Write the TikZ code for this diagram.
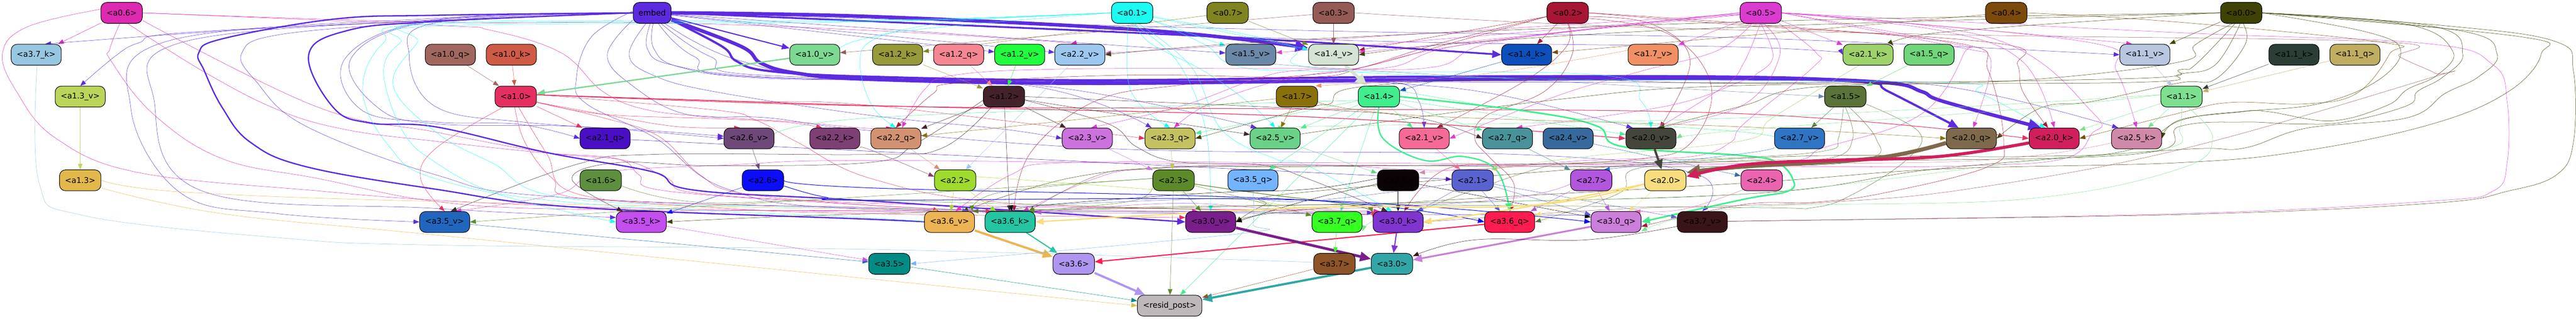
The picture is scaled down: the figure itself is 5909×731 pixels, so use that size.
\documentclass[tikz,border=0pt]{standalone}
\usepackage{fontspec}
\setmainfont{DejaVu Sans}
\usetikzlibrary{arrows.meta}
\pgfdeclarelayer{edges}
\pgfsetlayers{edges,main}
\tikzset{
  box/.style={draw=black,line width=1.2pt,rounded corners=14pt,inner sep=0pt,minimum height=48pt,text=black,font=\fontsize{18}{20}\selectfont},
  edge/.style={-{Triangle[length=12pt 2.2,width=9pt 2]},line join=round}
}
\newcommand{\nd}[6]{\definecolor{col#1}{HTML}{#5}\node[box,fill=col#1,minimum width=#4pt] (#1) at (#2,#3) {#6};}
\newcommand{\ed}[5][0.6]{\begin{pgfonlayer}{edges}\draw[edge,line width=#1pt,draw=col#2] plot[smooth,tension=.65] coordinates {(#3) #5 (#4)};\end{pgfonlayer}}
\newcommand{\es}[3][0.6]{\begin{pgfonlayer}{edges}\draw[edge,line width=#1pt,draw=col#2] (#2) -- (#3);\end{pgfonlayer}}
\begin{document}
\begin{tikzpicture}[x=1pt,y=-1pt]
\useasboundingbox (0,0) rectangle (5909,731);
\begin{pgfonlayer}{edges}\fill[white] (0,0) rectangle (5909,731);\end{pgfonlayer}
% row 0
\nd{a06}{279}{29.5}{95}{DD2AB0}{<a0.6>}
\nd{embed}{1496}{29.5}{87}{5C2BE0}{embed}
\nd{a01}{2597}{29.5}{95}{1CFBF2}{<a0.1>}
\nd{a07}{2816}{29.5}{95}{7F8420}{<a0.7>}
\nd{a03}{3059}{29.5}{95}{955A56}{<a0.3>}
\nd{a02}{3596}{29.5}{95}{A81636}{<a0.2>}
\nd{a05}{4039}{29.5}{95}{DC3BD0}{<a0.5>}
\nd{a04}{4602}{29.5}{95}{7C4A0A}{<a0.4>}
\nd{a00}{5141}{29.5}{95}{3E4203}{<a0.0>}
% row 1
\nd{a37k}{83}{125.5}{115}{97C6E0}{<a3.7\_k>}
\nd{a10q}{1033}{125.5}{115}{A1675F}{<a1.0\_q>}
\nd{a10k}{1173}{125.5}{115}{CF5A45}{<a1.0\_k>}
\nd{a10v}{1869}{125.5}{115}{7DD892}{<a1.0\_v>}
\nd{a12k}{2059}{125.5}{115}{969A38}{<a1.2\_k>}
\nd{a12q}{2199}{125.5}{115}{F58792}{<a1.2\_q>}
\nd{a12v}{2339}{125.5}{115}{20FE3D}{<a1.2\_v>}
\nd{a22v}{2477}{125.5}{115}{9CC8F0}{<a2.2\_v>}
\nd{a15v}{2869}{125.5}{115}{6C88A8}{<a1.5\_v>}
\nd{a14v}{3059}{125.5}{115}{D4E3D4}{<a1.4\_v>}
\nd{a14k}{3502}{125.5}{115}{0D4FBB}{<a1.4\_k>}
\nd{a17v}{3792}{125.5}{115}{F09064}{<a1.7\_v>}
\nd{a21k}{4285}{125.5}{115}{9ED36A}{<a2.1\_k>}
\nd{a15q}{4425}{125.5}{115}{70D67A}{<a1.5\_q>}
\nd{a11v}{4920}{125.5}{115}{B8C6E0}{<a1.1\_v>}
\nd{a11k}{5262}{125.5}{115}{2A3E36}{<a1.1\_k>}
\nd{a11q}{5402}{125.5}{115}{BFAD60}{<a1.1\_q>}
% row 2
\nd{a13v}{184}{221.5}{115}{BBD55B}{<a1.3\_v>}
\nd{a10}{1183}{221.5}{95}{E43060}{<a1.0>}
\nd{a12}{2303}{221.5}{95}{432329}{<a1.2>}
\nd{a17}{2975}{221.5}{95}{8A7008}{<a1.7>}
\nd{a14}{3163}{221.5}{95}{40EE8E}{<a1.4>}
\nd{a15}{4233}{221.5}{95}{5A7338}{<a1.5>}
\nd{a11}{5004}{221.5}{95}{7CE090}{<a1.1>}
% row 3
\nd{a21q}{1388}{317.5}{115}{4A0EC4}{<a2.1\_q>}
\nd{a26v}{1718}{317.5}{115}{6E4878}{<a2.6\_v>}
\nd{a22k}{1915}{317.5}{115}{7E3F74}{<a2.2\_k>}
\nd{a22q}{2055}{317.5}{115}{D29272}{<a2.2\_q>}
\nd{a23v}{2494}{317.5}{115}{CB72DC}{<a2.3\_v>}
\nd{a23q}{2684}{317.5}{115}{C4C160}{<a2.3\_q>}
\nd{a25v}{2925}{317.5}{115}{69D188}{<a2.5\_v>}
\nd{a21v}{3267}{317.5}{115}{F56A97}{<a2.1\_v>}
\nd{a27q}{3458}{317.5}{115}{4A929A}{<a2.7\_q>}
\nd{a24v}{3597}{317.5}{115}{37699C}{<a2.4\_v>}
\nd{a20v}{3787}{317.5}{115}{45463B}{<a2.0\_v>}
\nd{a27v}{4128}{317.5}{115}{2F75C4}{<a2.7\_v>}
\nd{a20q}{4522}{317.5}{115}{7F694C}{<a2.0\_q>}
\nd{a20k}{4712}{317.5}{115}{D01F5C}{<a2.0\_k>}
\nd{a25k}{4901}{317.5}{115}{D089A8}{<a2.5\_k>}
% row 4
\nd{a13}{184}{413.5}{95}{E2B84A}{<a1.3>}
\nd{a16}{1378}{413.5}{95}{5D8F3E}{<a1.6>}
\nd{a26}{1750}{413.5}{95}{0B0DFB}{<a2.6>}
\nd{a22}{2191}{413.5}{95}{9EDB2D}{<a2.2>}
\nd{a23}{2692}{413.5}{95}{5D8A28}{<a2.3>}
\nd{a35q}{2874}{413.5}{115}{72B4FF}{<a3.5\_q>}
\nd{a25}{3207}{413.5}{95}{0B0205}{<a2.5>}
\nd{a21}{3378}{413.5}{95}{5A62D0}{<a2.1>}
\nd{a27}{3650}{413.5}{95}{B256DE}{<a2.7>}
\nd{a20}{3820}{413.5}{95}{F8DD7E}{<a2.0>}
\nd{a24}{4041}{413.5}{95}{EA64B0}{<a2.4>}
% row 5
\nd{a35v}{1020}{509}{115}{2166BE}{<a3.5\_v>}
\nd{a35k}{1471}{509}{115}{C44EEE}{<a3.5\_k>}
\nd{a36v}{2178}{509}{115}{ECB452}{<a3.6\_v>}
\nd{a36k}{2317}{509}{115}{24C5A2}{<a3.6\_k>}
\nd{a30v}{2777}{509}{115}{7A1E8B}{<a3.0\_v>}
\nd{a37q}{3067}{509}{115}{34FF20}{<a3.7\_q>}
\nd{a30k}{3207}{509}{115}{8035D0}{<a3.0\_k>}
\nd{a36q}{3463}{509}{115}{FF1B50}{<a3.6\_q>}
\nd{a30q}{3707}{509}{115}{CB7EDA}{<a3.0\_q>}
\nd{a37v}{3905}{509}{115}{3A1518}{<a3.7\_v>}
% row 6
\nd{a35}{2040}{605}{95}{008C84}{<a3.5>}
\nd{a36}{2463}{605}{95}{AE96F0}{<a3.6>}
\nd{a37}{3061}{605}{95}{8D5428}{<a3.7>}
\nd{a30}{3193}{605}{95}{32A6A6}{<a3.0>}
% row 7
\nd{rp}{2683}{701}{148}{BFB8BA}{<resid\_post>}
% --- a0.6
\es{a06}{a37k}
\ed{a06}{a06.east}{a22v.130}{(1000,51) (1500,52) (2000,70) (2383,93)}
\ed{a06}{a06.east}{a22q.110}{(1000,58) (1128,70) (1287,121) (1383,210) (1485,252) (1638,268) (1829,280) (1985,294)}
\ed{a06}{a06.-20}{a30k.150}{(727,245) (1000,303) (1255,350) (1434,368) (1532,410) (1600,443) (2000,466) (2500,476) (3000,482)}
\ed{a06}{a06.-60}{a36k.130}{(465,163) (638,252) (797,298) (1000,324) (1242,350) (1415,364) (1466,401) (1529,438) (2000,471)}
\ed{a06}{a06.-100}{a30v.140}{(252,112) (255,140) (351,261) (510,364) (733,410) (1000,462) (1320,480) (2000,483)}
\ed{a06}{a06.170}{a36k.120}{(64,61) (6,121) (38,210) (128,317) (319,396) (733,438) (1000,459) (1400,476) (2000,485)}
% --- embed thick
\ed[8]{embed}{embed.east}{a14v.165}{(2000,38) (2638,70)}
\ed[4]{embed}{embed.east}{a14k.west}{(2000,49) (2638,77) (3000,96)}
\ed[8]{embed}{embed.-20}{a20k.140}{(1701,107) (1746,145) (1829,168) (2000,182) (2510,191) (3255,183) (4000,180) (4319,189) (4408,210) (4459,233)}
\ed[5]{embed}{embed.-20}{a20q.140}{(1657,107) (1689,140) (1765,163) (2000,176) (2510,184) (3255,176) (4000,176) (4281,189) (4332,210)}
\ed[3]{embed}{embed.west}{a36v.west}{(1000,35) (765,44) (510,89) (456,121) (469,163) (510,247) (574,326) (701,382) (1000,434) (1319,475) (2000,503)}
\ed[3]{embed}{embed.west}{a30v.west}{(1000,49) (797,70) (708,126) (765,247) (848,282) (1000,291) (1255,350) (1497,394) (1593,436) (2000,461)}
\es[2.5]{embed}{a10v}
% --- embed thin
\es{embed}{a12v}
\es{embed}{a22v}
\es{embed}{a15v}
\ed{embed}{embed.east}{a21k.west}{(3000,90) (4000,108)}
\ed{embed}{embed.east}{a11v.west}{(3000,70) (4000,87)}
\ed{embed}{embed.west}{a37k.50}{(1000,47) (574,67)}
\ed{embed}{embed.west}{a13v.north}{(1000,47) (420,75) (319,98) (268,126)}
\ed{embed}{embed.west}{a35v.west}{(1000,42) (382,95) (300,247) (415,443) (638,490)}
\ed{embed}{embed.west}{a35k.170}{(1000,45) (414,98) (354,233) (464,438) (1000,478)}
\ed{embed}{embed.west}{a30k.160}{(1000,50) (644,79) (555,121) (587,186) (701,289) (1000,401) (1255,450) (2000,478) (2800,486)}
\ed{embed}{embed.west}{a21q.west}{(1000,45) (794,131) (829,252) (1000,280) (1191,285)}
\ed{embed}{embed.west}{a26v.west}{(1000,47) (807,131) (867,247) (1000,284) (1319,290)}
\ed{embed}{embed.west}{a26v.175}{(1000,52) (939,131) (1000,245) (1200,280) (1500,300)}
\ed{embed}{embed.175}{a30q.165}{(1357,84) (1322,180) (1345,238) (1504,317) (1670,434) (2000,480) (3000,490)}
\ed{embed}{embed.-160}{a37v.north}{(1393,126) (1450,196) (1574,262) (1760,270) (2000,300) (2600,343) (3500,355) (3893,400)}
\ed{embed}{embed.-120}{a23v.west}{(1443,126) (1497,172) (1638,210) (2000,265) (2300,296)}
\ed{embed}{embed.-100}{a23q.150}{(1485,112) (1542,149) (1765,177) (2357,196)}
\ed{embed}{embed.-85}{a25v.150}{(1500,112) (1560,154) (1765,180) (2383,196)}
\ed{embed}{embed.-60}{a21v.north}{(1593,130) (1765,178) (3000,190) (3210,191) (3255,233)}
\ed{embed}{embed.-50}{a20v.150}{(1630,130) (1800,175) (3000,188) (3223,193) (3446,219)}
\ed{embed}{embed.-40}{a25k.150}{(1700,140) (2000,180) (3000,187) (4000,190) (4446,196)}
% --- a0.1
\ed{a01}{a01.west}{a22q.north}{(2128,65) (2000,93) (1973,149) (2000,242)}
\ed{a01}{a01.west}{a10v.east}{(2200,48) (2000,85) (1931,107)}
\ed{a01}{a01.west}{a35k.west}{(2000,50) (1000,60) (918,98) (880,168) (925,303) (1000,373) (1128,440) (1320,490)}
\ed{a01}{a01.west}{a36v.west}{(2000,48) (1000,55) (880,98) (832,210) (893,336) (1000,410) (1319,465) (2000,500)}
\ed{a01}{a01.west}{a36k.140}{(2000,46) (1000,52) (957,98) (902,196) (1000,303) (1128,373) (1319,457) (2000,476)}
\ed{a01}{a01.-110}{a23q.90}{(2588,186) (2625,250)}
\ed{a01}{a01.-90}{a30v.north}{(2700,140) (2765,294)}
\ed{a01}{a01.-75}{a25v.north}{(2640,100) (2765,165) (2870,240)}
\ed{a01}{a01.-60}{a30k.120}{(2733,154) (2803,298) (2925,364) (3000,380)}
\es{a01}{a14v}
\es{a01}{a15v}
\ed{a01}{a01.-20}{a20v.north}{(2765,103) (2830,149) (3000,163) (3670,172) (3765,233)}
\ed{a01}{a01.-10}{a20k.130}{(2957,103) (3000,154) (3500,180) (4446,189) (4542,214)}
% --- a0.7 a0.3
\es{a07}{a12k}
\es{a07}{a14v}
\es{a03}{a14v}
\es{a03}{a10v}
\ed{a03}{a03.east}{a30k.east}{(3700,60) (4500,80) (5464,96) (5504,130) (5586,168) (5580,177) (5000,343) (4510,434) (4191,464) (4000,471) (3700,480)}
% --- a0.4
\es{a04}{a14k}
\ed{a04}{a04.east}{a20k.east}{(5000,51) (5470,98) (5481,124) (5406,214) (5290,238) (5116,235) (5000,259)}
% --- a0.2
\es{a02}{a14k}
\es{a02}{a14v}
\ed{a02}{a02.-170}{a22q.north}{(3300,100) (3127,154) (3000,177) (2600,172) (2200,190) (2140,215)}
\ed{a02}{a02.-170}{a36k.70}{(3350,93) (3127,154) (3000,172) (2700,196) (2510,233) (2364,350)}
\ed{a02}{a02.-90}{a21v.40}{(3593,107) (3497,186)}
\ed{a02}{a02.-85}{a36q.north}{(3606,126) (3542,210) (3408,266) (3383,317) (3415,359) (3472,420)}
\ed{a02}{a02.-10}{a20v.50}{(3791,56) (3877,140)}
\ed{a02}{a02.-15}{a30k.60}{(3829,79) (3925,196) (3880,326) (3765,364) (3510,378) (3319,387)}
\ed{a02}{a02.east}{a20k.120}{(4000,58) (4587,100) (4628,149) (4640,210)}
\ed{a02}{a02.east}{a30q.-10}{(4000,54) (4497,100) (4561,163) (4596,322) (4561,382) (4319,443) (4159,464) (4000,469)}
% --- a0.5
\es{a05}{a14v}
\es{a05}{a15v}
\es{a05}{a22v}
\es{a05}{a17v}
\es{a05}{a21k}
\ed{a05}{a05.west}{a22q.60}{(3446,93) (3287,154) (3000,157) (2450,158) (2191,172) (2121,205)}
\ed{a05}{a05.west}{a23v.70}{(3370,100) (3190,154) (3000,160) (2893,177) (2714,242)}
\ed{a05}{a05.west}{a23q.70}{(3357,103) (3127,154) (3000,172) (2893,196) (2765,242)}
\ed{a05}{a05.-130}{a21v.east}{(3937,117) (3765,163) (3574,219)}
\ed{a05}{a05.-100}{a20v.55}{(4038,54) (4000,144) (3957,196)}
\ed{a05}{a05.-90}{a27q.50}{(4067,130) (4026,172) (4000,184) (3829,242)}
\ed{a05}{a05.-75}{a20v.60}{(4083,125) (4000,240)}
\ed{a05}{a05.-30}{a36k.40}{(4166,121) (4159,154) (4000,284) (3970,326) (3880,359) (3638,368) (3319,390) (3000,378) (2638,387) (2510,410)}
\ed{a05}{a05.east}{a36v.60}{(4480,100) (4504,124) (4408,261) (4191,336) (4000,375) (3000,373) (2446,373) (2320,400)}
\ed{a05}{a05.east}{a20q.80}{(4500,110) (4561,126) (4561,186)}
\ed{a05}{a05.east}{a20k.90}{(4450,70) (4638,140)}
\ed{a05}{a05.east}{a35v.45}{(4574,89) (4803,261) (4797,308) (4733,364) (4510,380) (4128,382) (3000,378) (2000,368) (1680,378) (1380,396) (1280,445)}
\ed{a05}{a05.east}{a25k.north}{(4785,96) (4855,163)}
\ed{a05}{a05.east}{a11v.140}{(4450,60) (4785,90)}
\ed{a05}{a05.east}{a37v.east}{(5000,75) (5568,100) (5719,149) (5751,233) (5751,373) (5719,438) (5580,461) (5000,490) (4000,507)}
% --- a0.0
\ed{a00}{a00.west}{a22v.east}{(4000,50) (3000,90)}
\ed{a00}{a00.west}{a14v.east}{(4000,62) (3400,95)}
\ed{a00}{a00.west}{a21k.20}{(5000,35) (4446,75)}
\es{a00}{a11v}
\ed{a00}{a00.east}{a37v.east}{(5620,60) (5864,96) (5903,163) (5903,326) (5864,401) (5754,438) (5580,466) (5000,492) (4000,507)}
\ed{a00}{a00.-120}{a23q.east}{(5035,149) (5000,160) (4893,180) (4000,191) (3510,180) (3115,200) (3051,238) (3000,247)}
\ed{a00}{a00.-95}{a25v.east}{(5081,149) (5000,170) (4893,189) (4000,196) (3574,228) (3000,305)}
\ed{a00}{a00.-80}{a20q.east}{(5150,102) (5081,182) (5000,190) (4797,233) (4682,247)}
\ed{a00}{a00.-130}{a20v.55}{(5035,103) (5000,142) (4638,184) (4159,200) (4000,242)}
\ed{a00}{a00.east}{a25k.east}{(5435,75) (5507,117) (5452,186) (5319,238) (5145,256) (5000,275)}
\ed{a00}{a00.east}{a30v.east}{(5522,56) (5626,117) (5591,172) (5522,205) (5475,242) (5348,277) (5203,256) (5139,256) (5000,277) (4880,345) (4638,359) (4000,363) (3000,440) (2900,470)}
\ed{a00}{a00.east}{a36v.40}{(5580,60) (5649,124) (5603,177) (5545,210) (5522,242) (5377,280) (5261,284) (5145,280) (5000,290) (4880,355) (4000,370) (3000,382) (2700,382) (2446,410)}
\ed{a00}{a00.east}{a35k.east}{(5640,70) (5728,124) (5684,177) (5609,214) (5522,270) (5290,294) (5145,340) (5000,343) (4446,387) (4000,445) (3000,470) (2000,490)}
\ed{a00}{a00.east}{a30v.-10}{(5780,84) (5829,124) (5754,210) (5580,284) (5290,345) (5000,373) (4446,388) (4000,420) (3000,480)}
% --- a1.0
\es{a10q}{a10}
\es{a10k}{a10}
\es[3]{a10v}{a10}
\es{a10}{a21q}
\ed{a10}{a10.-15}{a26v.130}{(1383,262) (1550,290)}
\ed{a10}{a10.-15}{a22k.140}{(1383,262) (1638,272) (1800,280)}
\ed{a10}{a10.5}{a30k.170}{(1638,252) (1733,275) (1829,326) (2000,410) (2320,466) (3000,485)}
\ed{a10}{a10.5}{a23q.west}{(1700,232) (2000,242)}
\ed[1.5]{a10}{a10.5}{a20v.west}{(2000,242) (3000,268)}
\ed[1.2]{a10}{a10.5}{a20k.west}{(2000,243) (3000,250) (4000,261)}
\ed{a10}{a10.-140}{a35v.north}{(1000,340) (965,410)}
\ed{a10}{a10.-95}{a36v.135}{(1204,326) (1268,410) (1357,457) (2000,476)}
\ed{a10}{a10.-75}{a30v.170}{(1255,354) (1319,443) (1638,476) (2000,490)}
\ed{a10}{a10.-15}{a36k.150}{(1383,270) (1510,312) (1606,401) (1702,443) (2000,471)}
% --- a1.2
\es{a12k}{a12}
\es{a12q}{a12}
\es{a12v}{a12}
\es{a12}{a22q}
\es{a12}{a23v}
\es{a12}{a25v}
\es{a12}{a36k}
\ed{a12}{a12.east}{a27q.west}{(3000,250) (3250,270)}
\ed{a12}{a12.-140}{a35v.60}{(2160,340) (2000,354) (1500,354) (1319,378)}
\ed{a12}{a12.-170}{a35k.150}{(2100,330) (2000,372) (1638,380) (1415,373) (1312,411)}
\ed{a12}{a12.-10}{a30k.135}{(2542,284) (2606,336) (2700,371) (2893,378) (3000,410)}
% --- a1.3 a1.6 a3.7k
\es{a13v}{a13}
\ed{a13}{a13.east}{a36v.150}{(415,440) (1000,462) (2000,480)}
\ed{a13}{a13.-20}{rp.west}{(510,490) (1000,539) (2000,640)}
\ed{a16}{a16.-15}{a37q.west}{(1606,464) (2000,460) (3000,490)}
\ed{a37k}{a37k.-85}{a37.west}{(90,420) (191,494) (638,545) (1000,562) (2000,572) (3000,601)}
% --- a1.4
\es[7]{a14v}{a14}
\es{a14k}{a14}
\es{a14}{a21v}
\es{a14}{a27q}
\es{a14}{a20v}
\es{a14}{a23q}
\es{a14}{a25v}
\es{a14}{a35q}
\es{a14}{a37q}
\es{a14}{rp}
\ed{a14}{a14.15}{a27v.west}{(3600,270) (4000,303)}
\ed{a14}{a14.-170}{a26v.east}{(2000,270)}
\ed[3]{a14}{a14.south}{a36q.north}{(3172,317) (3268,368) (3357,359) (3434,392)}
\ed[3.5]{a14}{a14.east}{a30q.east}{(3510,256) (3663,289) (3721,336) (4000,357) (4077,373) (4112,410) (4102,438) (4000,457)}
% --- a1.5
\es{a15q}{a15}
\ed{a15v}{a15v.-10}{a15.west}{(3000,153)}
\es{a15}{a27v}
\ed{a15}{a15.-100}{a30k.30}{(4217,317) (4191,345) (4000,361) (3638,373) (3510,392)}
\ed{a15}{a15.-90}{a36q.east}{(4250,317) (4200,362) (4000,368) (3753,387) (3714,443)}
\ed{a15}{a15.-70}{a36k.30}{(4303,317) (4281,364) (4000,382) (3000,380) (2638,387) (2510,405)}
\ed{a15}{a15.-20}{a36v.25}{(4402,303) (4376,364) (4255,443) (4159,476) (4000,476) (3000,470)}
% --- a1.7
\ed{a17v}{a17v.170}{a17.30}{(3400,170)}
\es{a17}{a22q}
\es{a17}{a25v}
\ed{a17}{a17.-15}{a20q.west}{(3255,265) (4000,291)}
% --- a1.1
\es{a11k}{a11}
\es{a11q}{a11}
\es{a11v}{a11}
\es{a11}{a20k}
\es{a11}{a25k}
\ed{a11}{a11.175}{a20v.east}{(4638,250) (4000,298)}
\ed{a11}{a11.175}{a25v.50}{(4000,270) (3000,290)}
\ed{a11}{a11.-60}{a30q.-20}{(5075,317) (5000,387) (4638,457) (4000,476)}
\ed{a11}{a11.-90}{a37q.-20}{(5000,295) (4970,340) (4638,372) (4000,445) (3300,470)}
% --- row 3 to row 4
\es{a21q}{a21}
\es{a26v}{a26}
\ed{a22k}{a22k.-20}{a22.170}{(2000,345)}
\es{a22q}{a22}
\es{a22v}{a22}
\es{a23v}{a23}
\es{a23q}{a23}
\es{a25v}{a25}
\ed{a25k}{a25k.-170}{a25.20}{(4500,370) (3700,375)}
\es{a21v}{a21}
\ed{a21k}{a21k.-130}{a21.30}{(4066,270) (4000,322) (3638,359)}
\es{a27q}{a27}
\ed{a27v}{a27v.-160}{a27.40}{(4000,352)}
\es{a24v}{a24}
\es[5]{a20v}{a20}
\ed[9]{a20q}{a20q.-170}{a20.20}{(4300,363) (4000,382)}
\ed[7]{a20k}{a20k.-170}{a20.10}{(4446,359) (4191,368) (4000,378)}
% --- row 4 to row 5
\es{a22}{a36v}
\es{a22}{a36k}
\ed{a22}{a22.10}{a37q.170}{(2700,440) (3000,480)}
\es{a23}{a30v}
\es{a23}{rp}
\es{a23}{a37q}
\ed{a23}{a23.-170}{a36k.30}{(2600,460)}
\ed{a23}{a23.175}{a36v.25}{(2300,440)}
\ed{a23}{a23.175}{a35v.east}{(2000,450) (1500,480)}
\ed[1.4]{a23}{a23.-10}{a30k.160}{(2900,445) (3100,470)}
\es{a25}{a30k}
\es{a25}{a30q}
\ed{a25}{a25.-170}{a30v.east}{(3000,459)}
\ed{a25}{a25.175}{a36k.80}{(3000,434) (2765,443) (2400,470)}
\es{a21}{a36q}
\es{a21}{a30k}
\es{a21}{a30q}
\es{a21}{a37v}
\ed{a21}{a21.-170}{a36v.30}{(3000,461) (2800,455) (2300,475)}
\es{a26}{a35k}
\ed[1.2]{a26}{a26.east}{a36q.west}{(2000,431) (3000,459)}
\ed[1.2]{a26}{a26.-15}{a30q.west}{(1893,452) (2000,459) (3000,459)}
\es{a27}{a30q}
\es{a27}{a36q}
\ed{a27}{a27.-170}{a36k.20}{(3446,457) (3000,480) (2700,466)}
\ed[3]{a20}{a20.-170}{a36k.east}{(3510,471) (3000,476)}
\ed[3]{a20}{a20.-170}{a30k.east}{(3510,473)}
\es{a20}{a30q}
\es{a20}{a36q}
\ed{a24}{a24.-170}{a30q.30}{(4000,434) (3860,480)}
% --- row 5 to row 6
\es[5]{a36v}{a36}
\es[2.5]{a36k}{a36}
\es[2.5]{a36q}{a36}
\ed{a35q}{a35q.-90}{a35.east}{(2874,513) (2842,536)}
\es{a35v}{a35}
\es{a35k}{a35}
\es[6]{a30v}{a30}
\es[2.5]{a30k}{a30}
\es[4]{a30q}{a30}
\ed{a37v}{a37v.-170}{a30.20}{(3638,550) (3383,550)}
\es{a37q}{a37}
% --- row 6 to row 7
\es[5]{a36}{rp}
\es[5]{a30}{rp}
\es{a35}{rp}
\es{a37}{rp}
\end{tikzpicture}
\end{document}
